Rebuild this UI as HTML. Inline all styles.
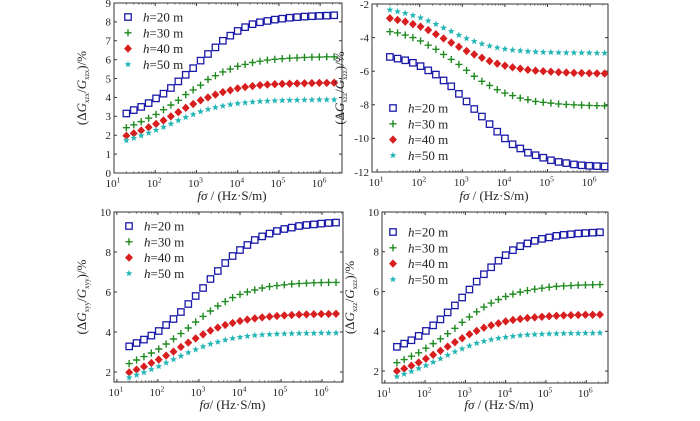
<!DOCTYPE html>
<html><head><meta charset="utf-8"><style>
body{margin:0;background:#fff}
svg text{font-family:"Liberation Serif",serif;fill:#222}
</style></head><body>
<svg id="c" width="700" height="416" viewBox="0 0 700 416" xmlns="http://www.w3.org/2000/svg"></svg>
<script>
const logF = [1.3,1.48,1.66,1.84,2.02,2.2,2.38,2.56,2.74,2.92,3.1,3.28,3.46,3.64,3.82,4.0,4.18,4.36,4.54,4.72,4.9,5.08,5.26,5.44,5.62,5.8,5.98,6.16,6.34];
const seriesNames = ["h=20 m","h=30 m","h=40 m","h=50 m"];
const tlH20=[3.15,3.33,3.5,3.7,3.95,4.2,4.5,4.85,5.2,5.55,5.95,6.3,6.65,7.0,7.27,7.52,7.72,7.88,7.98,8.05,8.12,8.17,8.22,8.25,8.28,8.3,8.32,8.33,8.35];
const tlH30=[2.4,2.55,2.72,2.9,3.1,3.35,3.6,3.85,4.15,4.4,4.65,4.95,5.15,5.35,5.5,5.65,5.75,5.85,5.92,5.98,6.02,6.05,6.08,6.1,6.12,6.13,6.14,6.15,6.15];
const tlH40=[1.97,2.1,2.25,2.42,2.6,2.78,3.0,3.22,3.45,3.65,3.85,4.0,4.15,4.28,4.38,4.48,4.55,4.6,4.65,4.68,4.7,4.72,4.73,4.74,4.75,4.76,4.77,4.77,4.78];
const tlH50=[1.72,1.85,1.98,2.12,2.27,2.43,2.6,2.78,2.95,3.1,3.25,3.37,3.47,3.55,3.62,3.68,3.72,3.76,3.79,3.81,3.83,3.84,3.85,3.86,3.87,3.87,3.88,3.88,3.88];
const trH20=[-5.15,-5.25,-5.35,-5.5,-5.7,-5.95,-6.2,-6.55,-6.9,-7.35,-7.8,-8.25,-8.7,-9.15,-9.6,-10.0,-10.35,-10.6,-10.85,-11.0,-11.15,-11.3,-11.4,-11.47,-11.55,-11.6,-11.63,-11.65,-11.67];
const trH30=[-3.65,-3.72,-3.85,-4.0,-4.2,-4.45,-4.7,-5.0,-5.3,-5.6,-5.95,-6.3,-6.6,-6.85,-7.1,-7.3,-7.45,-7.6,-7.7,-7.8,-7.85,-7.9,-7.95,-7.98,-8.0,-8.02,-8.04,-8.05,-8.06];
const trH40=[-2.85,-2.95,-3.05,-3.2,-3.35,-3.55,-3.8,-4.05,-4.3,-4.55,-4.8,-5.0,-5.2,-5.4,-5.55,-5.67,-5.77,-5.85,-5.92,-5.97,-6.0,-6.03,-6.06,-6.08,-6.1,-6.11,-6.12,-6.13,-6.14];
const trH50=[-2.35,-2.45,-2.55,-2.68,-2.82,-3.0,-3.2,-3.42,-3.63,-3.85,-4.05,-4.22,-4.37,-4.5,-4.6,-4.68,-4.74,-4.78,-4.82,-4.85,-4.87,-4.88,-4.89,-4.9,-4.9,-4.91,-4.91,-4.92,-4.92];
const blH20=[3.28,3.45,3.62,3.82,4.05,4.35,4.65,5.0,5.4,5.8,6.2,6.65,7.05,7.45,7.8,8.1,8.35,8.6,8.78,8.92,9.05,9.15,9.22,9.3,9.35,9.38,9.42,9.45,9.47];
const blH30=[2.42,2.6,2.77,2.95,3.15,3.4,3.65,3.92,4.2,4.5,4.78,5.05,5.3,5.52,5.72,5.88,6.0,6.1,6.2,6.27,6.32,6.36,6.4,6.42,6.44,6.46,6.47,6.48,6.48];
const blH40=[1.98,2.12,2.27,2.45,2.62,2.82,3.02,3.25,3.47,3.68,3.88,4.07,4.22,4.35,4.45,4.55,4.62,4.68,4.73,4.77,4.8,4.83,4.85,4.87,4.88,4.89,4.9,4.9,4.91];
const blH50=[1.72,1.85,1.98,2.13,2.28,2.46,2.63,2.8,2.97,3.12,3.27,3.4,3.5,3.6,3.68,3.74,3.79,3.83,3.86,3.88,3.9,3.91,3.92,3.93,3.94,3.94,3.95,3.95,3.95];
const brH20=[3.22,3.38,3.55,3.77,4.02,4.3,4.6,4.95,5.3,5.7,6.1,6.5,6.87,7.22,7.55,7.83,8.08,8.28,8.42,8.55,8.65,8.72,8.8,8.85,8.88,8.92,8.94,8.96,8.98];
const brH30=[2.42,2.58,2.75,2.92,3.15,3.38,3.62,3.88,4.15,4.45,4.72,4.98,5.22,5.42,5.6,5.75,5.87,5.97,6.05,6.12,6.17,6.22,6.26,6.28,6.3,6.32,6.33,6.34,6.35];
const brH40=[2.0,2.12,2.27,2.43,2.62,2.82,3.02,3.23,3.45,3.65,3.85,4.02,4.18,4.3,4.4,4.5,4.57,4.62,4.67,4.7,4.73,4.76,4.78,4.8,4.81,4.82,4.83,4.83,4.84];
const brH50=[1.72,1.85,1.98,2.13,2.28,2.45,2.62,2.8,2.97,3.12,3.27,3.4,3.5,3.58,3.65,3.7,3.75,3.79,3.82,3.84,3.86,3.87,3.88,3.89,3.9,3.9,3.91,3.91,3.92];
const xTickExp=[1,2,3,4,5,6];
const tlYTicks=[0,1,2,3,4,5,6,7,8,9];
const trYTicks=[-2,-4,-6,-8,-10,-12];
const botYTicks=[2,4,6,8,10];

const NS="http://www.w3.org/2000/svg";
const svg=document.getElementById('c');
function mk(tag,attrs,parent){const e=document.createElementNS(NS,tag);for(const k in attrs)e.setAttribute(k,attrs[k]);(parent||svg).appendChild(e);return e;}
const colors=["#1a1aa8","#1f8a1f","#d81e1e","#22b5b5"];
function marker(g,k,x,y){
  let e;
  if(k===0){e=mk('rect',{x:x-3.2,y:y-3.2,width:6.4,height:6.4,fill:'none',stroke:colors[0],'stroke-width':1.3},g);}
  else if(k===1){e=mk('path',{d:`M${x-3.6} ${y}H${x+3.6}M${x} ${y-3.6}V${y+3.6}`,stroke:colors[1],'stroke-width':1.4,fill:'none'},g);}
  else if(k===2){e=mk('path',{d:`M${x} ${y-3.6}L${x+3.4} ${y}L${x} ${y+3.6}L${x-3.4} ${y}Z`,fill:colors[2],stroke:colors[2],'stroke-width':0.8},g);}
  else{let p='';for(let i=0;i<10;i++){const r=i%2?1.5:3.6;const a=-Math.PI/2+i*Math.PI/5;p+=(i?'L':'M')+(x+r*Math.cos(a)).toFixed(2)+' '+(y+r*Math.sin(a)).toFixed(2);}e=mk('path',{d:p+'Z',fill:colors[3]},g);}
  return e;
}
const panels=[
 {id:'top-left',l:114,r:342,t:3,b:173,xmin:1.0,xmax:6.53,ymin:0,ymax:9,yt:tlYTicks,data:[tlH20,tlH30,tlH40,tlH50],sub:'xzx',leg:[128,17],xl:'fσ / (Hz·S/m)',xly:200},
 {id:'top-right',l:372,r:608,t:4,b:172,xmin:0.88,xmax:6.42,ymin:-12,ymax:-2,yt:trYTicks,data:[trH20,trH30,trH40,trH50],sub:'xzz',leg:[393,108],xl:'fσ / (Hz·S/m)',xly:200},
 {id:'bottom-left',l:114,r:343,t:212,b:382,xmin:0.93,xmax:6.51,ymin:1.5,ymax:10,yt:botYTicks,data:[blH20,blH30,blH40,blH50],sub:'xyy',leg:[129,226],xl:'fσ/ (Hz·S/m)',xly:409},
 {id:'bottom-right',l:382,r:608,t:212,b:383,xmin:0.93,xmax:6.54,ymin:1.4,ymax:10,yt:botYTicks,data:[brH20,brH30,brH40,brH50],sub:'xzz',leg:[393,232],xl:'fσ / (Hz·S/m)',xly:409}
];
panels.forEach(P=>{
  const g=mk('g',{});
  
  
  const X=v=>P.l+(v-P.xmin)/(P.xmax-P.xmin)*(P.r-P.l);
  const Y=v=>P.b-(v-P.ymin)/(P.ymax-P.ymin)*(P.b-P.t);
  const box=mk('rect',{x:P.l,y:P.t,width:P.r-P.l,height:P.b-P.t,fill:'none',stroke:'#333','stroke-width':1},g);
  
  
  xTickExp.forEach(e=>{
    const x=X(e);
    mk('line',{x1:x,x2:x,y1:P.b,y2:P.b-3,stroke:'#333'},g);
    mk('line',{x1:x,x2:x,y1:P.t,y2:P.t+3,stroke:'#333'},g);
    for(let m=2;m<10;m++){const xm=X(e+Math.log10(m));if(xm<P.r){mk('line',{x1:xm,x2:xm,y1:P.b,y2:P.b-1.5,stroke:'#555'},g);mk('line',{x1:xm,x2:xm,y1:P.t,y2:P.t+1.5,stroke:'#555'},g);}}
    const t=mk('text',{x:x-1,y:P.b+14,'font-size':11,'text-anchor':'middle'},g);
    
    
    t.textContent='10';
    const s=mk('tspan',{dy:-4.5,'font-size':7.5},t);s.textContent=e;
  });
  P.yt.forEach(v=>{
    const y=Y(v);
    mk('line',{x1:P.l,x2:P.l+3,y1:y,y2:y,stroke:'#333'},g);
    mk('line',{x1:P.r,x2:P.r-3,y1:y,y2:y,stroke:'#333'},g);
    const t=mk('text',{x:P.l-3,y:y+3.8,'font-size':11,'text-anchor':'end'},g);
    
    
    t.textContent=v;
  });
  const xt=mk('text',{x:(P.l+P.r)/2+4,y:P.xly,'font-size':13,'text-anchor':'middle'},g);
  
  
  xt.innerHTML='<tspan font-style="italic">fσ</tspan>'+P.xl.slice(2);
  const yc=(P.t+P.b)/2, yx=P.l-28;
  const yt=mk('text',{x:yx,y:yc,'font-size':13,'text-anchor':'middle',transform:`rotate(-90 ${yx} ${yc})`},g);
  
  
  yt.innerHTML=`(Δ<tspan font-style="italic">G</tspan><tspan font-size="7" dy="3">${P.sub}</tspan><tspan dy="-3">/</tspan><tspan font-style="italic">G</tspan><tspan font-size="7" dy="3">${P.sub}</tspan><tspan dy="-3">)/%</tspan>`;
  P.data.forEach((arr,k)=>{
    const sg=mk('g',{},g);
    
    
    arr.forEach((v,i)=>{const m=marker(sg,k,X(logF[i]),Y(v));});
  });
  seriesNames.forEach((n,k)=>{
    const lg=mk('g',{},g);
    
    
    const ly=P.leg[1]+k*15.8;
    marker(lg,k,P.leg[0],ly);
    const t=mk('text',{x:P.leg[0]+15,y:ly+4.5,'font-size':13},lg);
    t.innerHTML='<tspan font-style="italic">h</tspan>'+n.slice(1);
  });
});
</script>
</body></html>
